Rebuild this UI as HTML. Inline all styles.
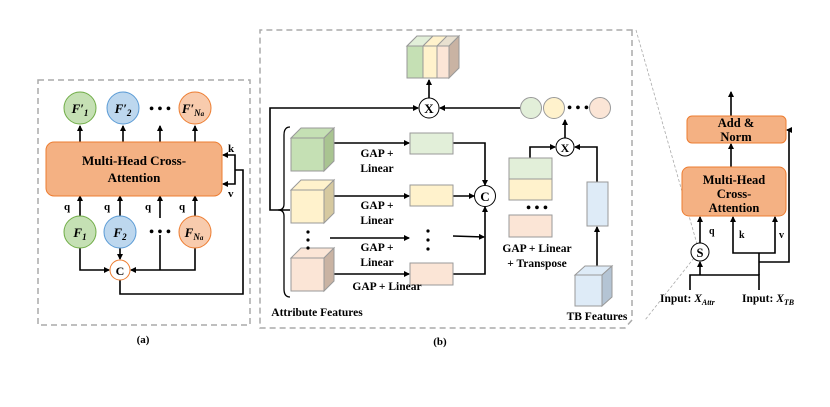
<!DOCTYPE html>
<html><head><meta charset="utf-8"><style>
html,body{margin:0;padding:0;background:#fff;}
svg{display:block;font-family:"Liberation Serif",serif;font-weight:bold;}
</style></head><body>
<svg width="830" height="407" viewBox="0 0 830 407" xmlns="http://www.w3.org/2000/svg">
<defs>
<marker id="a" markerWidth="6" markerHeight="6" refX="5" refY="3" orient="auto" markerUnits="userSpaceOnUse"><path d="M0,0 L6,3 L0,6 z" fill="#000"/></marker>
</defs>
<g fill="none" stroke="#aaa" stroke-width="1.5" stroke-dasharray="6,4">
<rect x="38" y="80" width="212" height="245"/>
<path d="M632,30 L632,320 L625,328 L260,328 L260,30 Z"/>
</g>
<g stroke="#aaa" stroke-width="0.8" stroke-dasharray="3,2" fill="none">
<line x1="636" y1="30" x2="697" y2="244"/>
<line x1="694" y1="258" x2="645" y2="320"/>
</g>
<!-- Panel a -->
<g stroke="#000" stroke-width="1.6" fill="none" marker-end="url(#a)">
<line x1="80" y1="142" x2="80" y2="126"/>
<line x1="123" y1="142" x2="123" y2="126"/>
<line x1="160" y1="142" x2="160" y2="126"/>
<line x1="195" y1="142" x2="195" y2="126"/>
<line x1="80" y1="216" x2="80" y2="196"/>
<line x1="120" y1="216" x2="120" y2="196"/>
<line x1="160" y1="218" x2="160" y2="196"/>
<line x1="195" y1="216" x2="195" y2="196"/>
<path d="M80,248 L80,270 L109,270"/>
<line x1="120" y1="248" x2="120" y2="259"/>
<path d="M195,248 L195,270 L131,270"/>
<path d="M235,170 L235,155 L223,155"/>
<path d="M235,170 L235,184 L223,184"/>
</g>
<g stroke="#000" stroke-width="1.6" fill="none">
<line x1="160" y1="235" x2="160" y2="270"/>
<path d="M120,280 L120,294 L243,294 L243,170 L235,170"/>
</g>
<rect x="46" y="142" width="176" height="54" rx="8" fill="#f4b183" stroke="#ed7d31" stroke-width="1"/>
<text x="134" y="165" font-size="13" text-anchor="middle">Multi-Head Cross-</text>
<text x="134" y="182" font-size="13" text-anchor="middle">Attention</text>
<g stroke-width="1">
<circle cx="80" cy="108" r="16" fill="#c5e0b4" stroke="#70ad47"/>
<circle cx="123" cy="108" r="16" fill="#bdd7ee" stroke="#5b9bd5"/>
<circle cx="195" cy="108" r="16" fill="#f8cbad" stroke="#ed7d31"/>
<circle cx="80" cy="232" r="16" fill="#c5e0b4" stroke="#70ad47"/>
<circle cx="120" cy="232" r="16" fill="#bdd7ee" stroke="#5b9bd5"/>
<circle cx="195" cy="232" r="16" fill="#f8cbad" stroke="#ed7d31"/>
<circle cx="120" cy="270" r="10" fill="#fff" stroke="#ed7d31"/>
</g>
<g font-size="13" text-anchor="middle" font-style="italic">
<text x="80" y="113">F′<tspan font-size="9" dy="3">1</tspan></text>
<text x="123" y="113">F′<tspan font-size="9" dy="3">2</tspan></text>
<text x="193" y="113">F′<tspan font-size="9" dy="3">N<tspan font-size="7">a</tspan></tspan></text>
<text x="80" y="237">F<tspan font-size="9" dy="3">1</tspan></text>
<text x="120" y="237">F<tspan font-size="9" dy="3">2</tspan></text>
<text x="194" y="237">F<tspan font-size="9" dy="3">N<tspan font-size="7">a</tspan></tspan></text>
</g>
<text x="120" y="275" font-size="12" text-anchor="middle">C</text>
<text x="160" y="113" font-size="14" text-anchor="middle">• • •</text>
<text x="160" y="236" font-size="14" text-anchor="middle">• • •</text>
<g font-size="11">
<text x="64" y="210">q</text><text x="104" y="210">q</text><text x="145" y="210">q</text><text x="179" y="210">q</text>
<text x="228" y="152">k</text><text x="228" y="197">v</text>
</g>
<text x="143" y="343" font-size="11" text-anchor="middle">(a)</text>

<!-- Panel b -->
<g stroke="#999" stroke-width="1">
<polygon points="407,46 417,36 459,36 449,46" fill="#e8e0d0"/>
<polygon points="407,46 417,36 433,36 423,46" fill="#e2efd9"/>
<polygon points="423,46 433,36 447,36 437,46" fill="#fff2cc"/>
<polygon points="449,46 459,36 459,68 449,78" fill="#c9b3a3"/>
<rect x="407" y="46" width="16" height="32" fill="#c5e0b4"/>
<rect x="423" y="46" width="14" height="32" fill="#fff2cc"/>
<rect x="437" y="46" width="12" height="32" fill="#fbe5d6"/>
</g>
<g stroke="#000" stroke-width="1.6" fill="none" marker-end="url(#a)">
<line x1="429" y1="98" x2="429" y2="80"/>
<path d="M290,210 L270,210 L270,108 L418,108"/>
<line x1="520" y1="108" x2="440" y2="108"/>
<line x1="334" y1="143" x2="409" y2="143"/>
<line x1="334" y1="196" x2="409" y2="196"/>
<line x1="330" y1="238" x2="409" y2="238"/>
<line x1="334" y1="274" x2="409" y2="274"/>
<path d="M453,143 L485,143 L485,185"/>
<line x1="453" y1="196" x2="474" y2="196"/>
<line x1="453" y1="236" x2="484" y2="237"/>
<path d="M453,274 L485,274 L485,207"/>
<line x1="565" y1="138" x2="565" y2="120"/>
<path d="M530,158 L530,147 L555,147"/>
<path d="M597,182 L597,147 L575,147"/>
<line x1="597" y1="268" x2="597" y2="227"/>
</g>
<path d="M290,127 Q284,127 284,135 L284,204 Q284,210 278,210 Q284,210 284,216 L284,289 Q284,297 290,297" fill="none" stroke="#000" stroke-width="1.3"/>
<g stroke="#999" stroke-width="1">
<polygon points="291,138 301,128 334,128 324,138" fill="#c5e0b4"/>
<polygon points="324,138 334,128 334,161 324,171" fill="#a9c491"/>
<rect x="291" y="138" width="33" height="33" fill="#c5e0b4"/>
<polygon points="291,190 301,180 334,180 324,190" fill="#fff2cc"/>
<polygon points="324,190 334,180 334,213 324,223" fill="#d6c9a0"/>
<rect x="291" y="190" width="33" height="33" fill="#fff2cc"/>
<polygon points="291,258 301,248 334,248 324,258" fill="#fbe5d6"/>
<polygon points="324,258 334,248 334,281 324,291" fill="#c9b3a3"/>
<rect x="291" y="258" width="33" height="33" fill="#fbe5d6"/>
<rect x="410" y="133" width="43" height="21" fill="#e2efd9"/>
<rect x="410" y="185" width="43" height="21" fill="#fff2cc"/>
<rect x="410" y="263" width="43" height="22" fill="#fbe5d6"/>
<rect x="509" y="158" width="43" height="21" fill="#e2efd9"/>
<rect x="509" y="179" width="43" height="21" fill="#fff2cc"/>
<rect x="509" y="215" width="43" height="22" fill="#fbe5d6"/>
<rect x="587" y="182" width="21" height="44" fill="#deebf7"/>
<polygon points="575,275 585,266 612,266 602,275" fill="#deebf7"/>
<polygon points="602,275 612,266 612,297 602,306" fill="#b4c4d4"/>
<rect x="575" y="275" width="27" height="31" fill="#deebf7"/>
<circle cx="531" cy="108" r="10.5" fill="#e2efd9"/>
<circle cx="554" cy="108" r="10.5" fill="#fff2cc"/>
<circle cx="600" cy="108" r="10.5" fill="#fbe5d6"/>
</g>
<g stroke="#000" stroke-width="1" fill="#fff">
<circle cx="429" cy="108" r="10"/>
<circle cx="485" cy="196" r="10.5"/>
<circle cx="565" cy="147" r="9"/>
</g>
<g font-size="13" text-anchor="middle">
<text x="429" y="113">X</text><text x="485" y="201">C</text><text x="565" y="152" font-size="12">X</text>
</g>
<g font-size="14" text-anchor="middle">
<text x="578" y="112">• • •</text>
<text x="537" y="212">• • •</text>
</g>
<g fill="#000">
<circle cx="308" cy="232" r="1.6"/><circle cx="308" cy="240" r="1.6"/><circle cx="308" cy="248" r="1.6"/>
<circle cx="428" cy="231" r="1.6"/><circle cx="428" cy="240" r="1.6"/><circle cx="428" cy="249" r="1.6"/>
</g>
<g font-size="11.5" text-anchor="middle">
<text x="377" y="157">GAP +</text><text x="377" y="172">Linear</text>
<text x="377" y="209">GAP +</text><text x="377" y="224">Linear</text>
<text x="377" y="251">GAP +</text><text x="377" y="266">Linear</text>
<text x="387" y="290">GAP + Linear</text>
<text x="537" y="252">GAP + Linear</text><text x="537" y="267">+ Transpose</text>
<text x="597" y="320">TB Features</text>
<text x="317" y="316">Attribute Features</text>
</g>
<text x="440" y="345" font-size="11" text-anchor="middle">(b)</text>

<!-- Panel c -->
<g stroke="#000" stroke-width="1.6" fill="none" marker-end="url(#a)">
<line x1="731" y1="116" x2="731" y2="92"/>
<line x1="731" y1="167" x2="731" y2="144"/>
<line x1="700" y1="243" x2="700" y2="217"/>
<line x1="700" y1="275" x2="700" y2="262"/>
<path d="M759,253 L733,253 L733,217"/>
<path d="M759,253 L775,253 L775,217"/>
<path d="M759,262 L789,262 L789,130 L787,130"/>
</g>
<g stroke="#000" stroke-width="1.6" fill="none">
<path d="M690,290 L690,275 L759,275 L759,290"/>
<line x1="759" y1="275" x2="759" y2="253"/>
</g>
<rect x="687" y="116" width="99" height="27" rx="5" fill="#f4b183" stroke="#ed7d31" stroke-width="1"/>
<rect x="682" y="167" width="104" height="49" rx="7" fill="#f4b183" stroke="#ed7d31" stroke-width="1"/>
<circle cx="700" cy="252" r="9" fill="#fff" stroke="#000" stroke-width="1"/>
<g font-size="12.5" text-anchor="middle">
<text x="736" y="127">Add &amp;</text><text x="736" y="141">Norm</text>
<text x="734" y="184">Multi-Head</text><text x="734" y="198">Cross-</text><text x="734" y="212">Attention</text>
<text x="700" y="257">S</text>
</g>
<g font-size="10"><text x="709" y="234">q</text><text x="739" y="238">k</text><text x="779" y="238">v</text></g>
<g font-size="11.5">
<text x="660" y="302">Input: <tspan font-style="italic">X<tspan font-size="8" dy="3">Attr</tspan></tspan></text>
<text x="742" y="302">Input: <tspan font-style="italic">X<tspan font-size="8" dy="3">TB</tspan></tspan></text>
</g>
</svg>
</body></html>
